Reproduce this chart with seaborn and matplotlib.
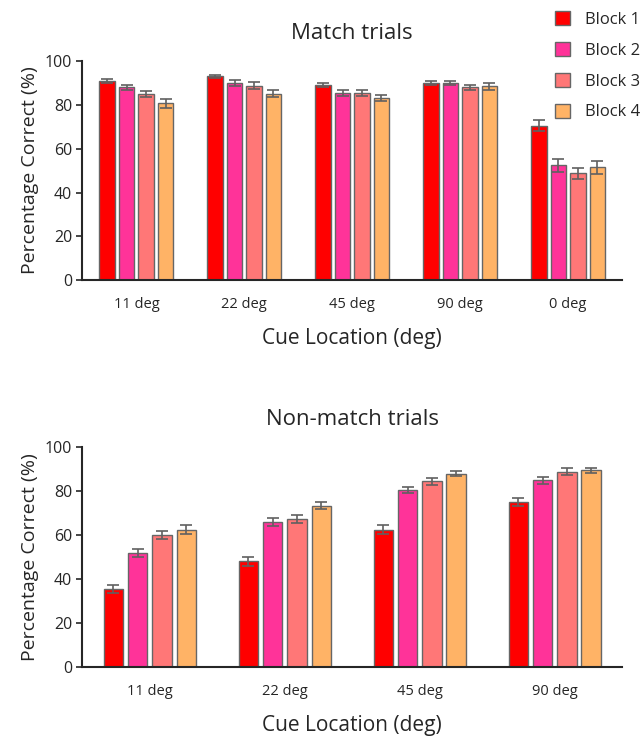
import numpy as np
import pandas as pd
import matplotlib
matplotlib.use("Agg")
import matplotlib.pyplot as plt
import seaborn as sns
from matplotlib.patches import Patch

# DATA
blocks = ["Block 1", "Block 2", "Block 3", "Block 4"]
colors = ["#ff0000", "#ff3399", "#ff7777", "#ffb366"]

match_locs = ["11 deg", "22 deg", "45 deg", "90 deg", "0 deg"]
match_b1 = [91.0, 93.0, 89.0, 90.0, 70.5]
match_b2 = [88.0, 90.0, 85.5, 90.0, 52.5]
match_b3 = [85.0, 88.8, 85.5, 88.0, 48.8]
match_b4 = [80.8, 85.2, 83.2, 88.5, 51.5]
match_e1 = [1.0, 0.8, 1.0, 1.0, 2.5]
match_e2 = [1.0, 1.2, 1.5, 1.0, 3.0]
match_e3 = [1.5, 1.5, 1.5, 1.2, 2.5]
match_e4 = [2.0, 1.5, 1.5, 1.5, 3.0]

nonmatch_locs = ["11 deg", "22 deg", "45 deg", "90 deg"]
nonmatch_b1 = [35.5, 48.2, 62.5, 75.0]
nonmatch_b2 = [51.8, 66.0, 80.5, 85.0]
nonmatch_b3 = [60.2, 67.2, 84.5, 89.0]
nonmatch_b4 = [62.5, 73.5, 88.0, 89.5]
nonmatch_e1 = [2.0, 2.0, 2.0, 1.8]
nonmatch_e2 = [1.8, 1.8, 1.5, 1.5]
nonmatch_e3 = [1.8, 1.8, 1.5, 1.5]
nonmatch_e4 = [2.0, 1.5, 1.2, 1.2]

sns.set_style("ticks")
plt.rcParams['font.family'] = ['Open Sans', 'DejaVu Sans']


def make_df(locs, vals):
    rows = []
    for b, v in zip(blocks, vals):
        for loc, y in zip(locs, v):
            rows.append({"Cue": loc, "Block": b, "Pct": y})
    return pd.DataFrame(rows)


def draw_panel(ax, locs, vals, errs, title):
    df = make_df(locs, vals)
    sns.barplot(data=df, x="Cue", y="Pct", hue="Block", order=locs, hue_order=blocks,
                palette=colors, width=0.72, gap=0.2, edgecolor="#666666", linewidth=1,
                saturation=1, errorbar=None, legend=False, ax=ax)
    # error bars from each hue container
    for cont, err in zip(ax.containers, errs):
        xs = [p.get_x() + p.get_width() / 2 for p in cont.patches]
        ys = [p.get_height() for p in cont.patches]
        ax.errorbar(xs, ys, yerr=err, fmt="none", ecolor="#606060", elinewidth=1.2,
                    capsize=4, capthick=1.2, zorder=5)
    ax.set_xlim(-0.5, len(locs) - 0.5)
    ax.set_ylim(0, 100)
    ax.set_yticks([0, 20, 40, 60, 80, 100])
    ax.tick_params(axis="y", labelsize=11.5, length=4, width=1.2)
    ax.tick_params(axis="x", labelsize=10.5, length=0, pad=12)
    for s in ["left", "bottom"]:
        ax.spines[s].set_linewidth(1.5)
    sns.despine(ax=ax)
    ax.set_title(title, fontsize=16, pad=16)
    ax.set_ylabel("Percentage Correct (%)", fontsize=14)
    ax.set_xlabel("Cue Location (deg)", fontsize=15, labelpad=12)


fig = plt.figure(figsize=(6.44, 7.37), dpi=100)
ax1 = fig.add_axes([0.128, 0.620, 0.838, 0.297])
ax2 = fig.add_axes([0.128, 0.095, 0.838, 0.298])

draw_panel(ax1, match_locs, [match_b1, match_b2, match_b3, match_b4],
           [match_e1, match_e2, match_e3, match_e4], "Match trials")
draw_panel(ax2, nonmatch_locs, [nonmatch_b1, nonmatch_b2, nonmatch_b3, nonmatch_b4],
           [nonmatch_e1, nonmatch_e2, nonmatch_e3, nonmatch_e4], "Non-match trials")

# legend
handles = [Patch(facecolor=c, edgecolor="#666666", label=b) for b, c in zip(blocks, colors)]
fig.legend(handles=handles, loc="upper right", bbox_to_anchor=(1.018, 1.005), frameon=False,
           fontsize=12, handlelength=0.9, handleheight=0.9, labelspacing=0.85, handletextpad=0.9)

plt.savefig("out.png", dpi=100)
